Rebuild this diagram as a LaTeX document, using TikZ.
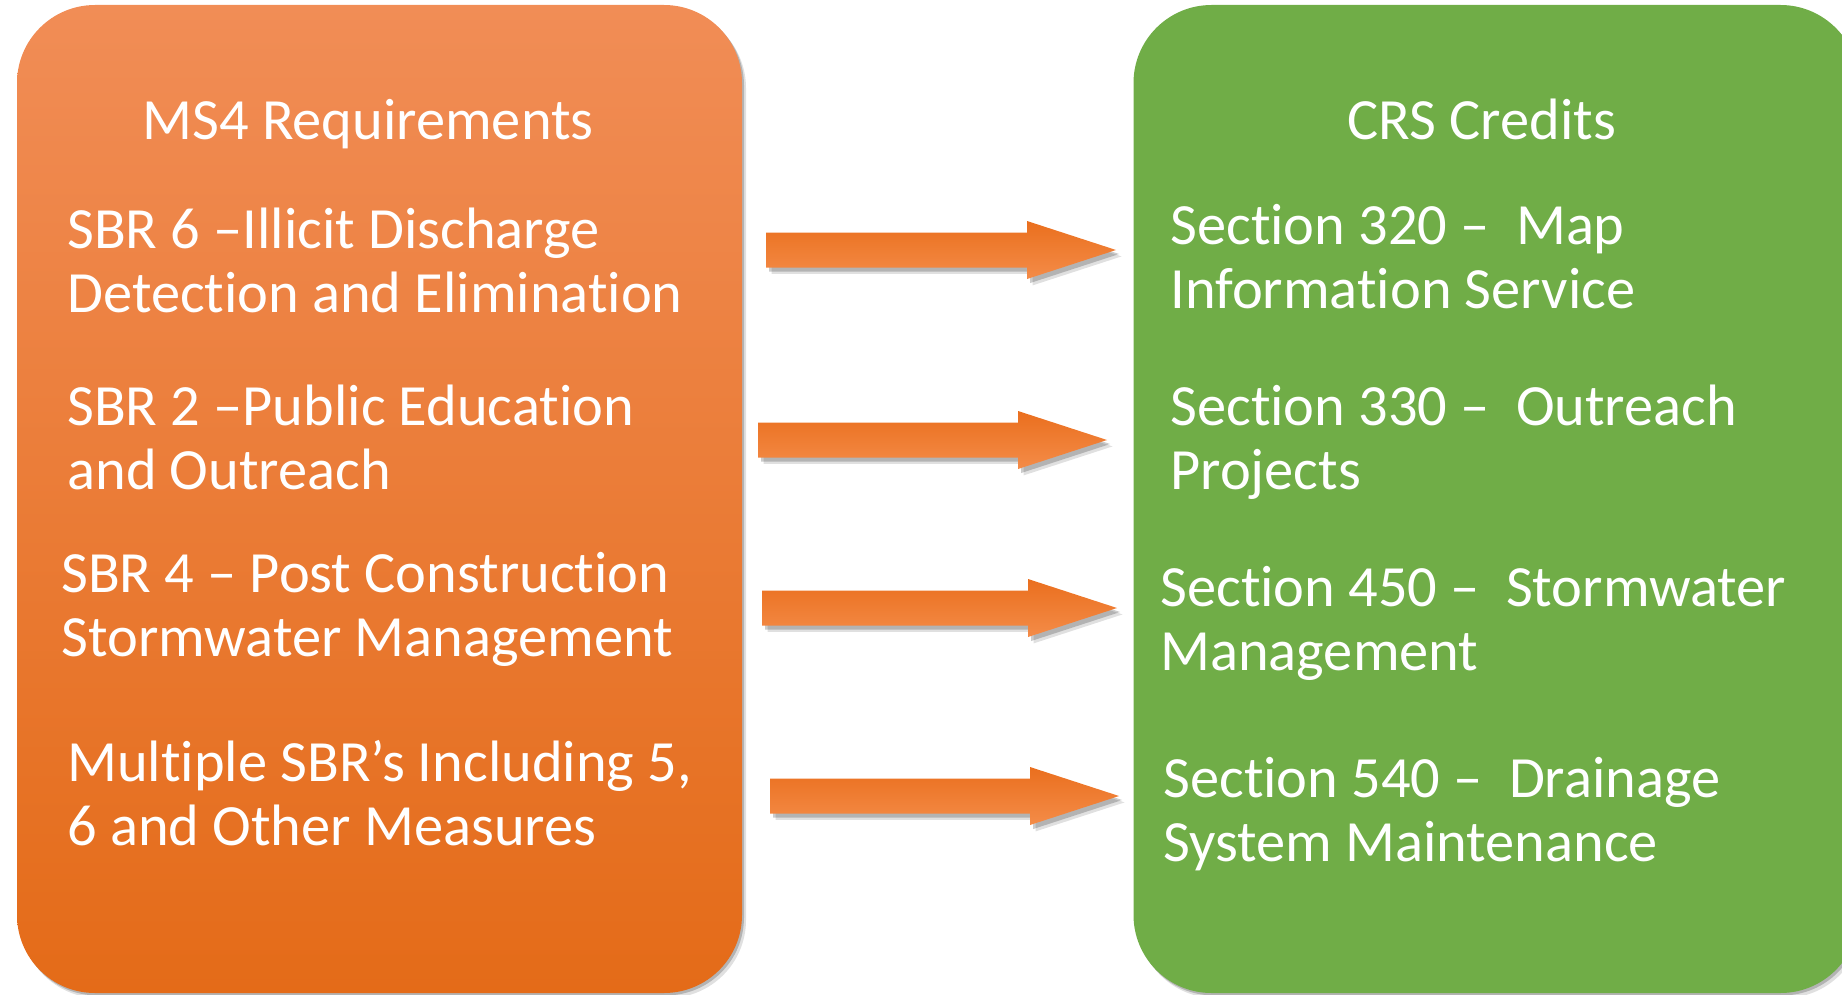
\documentclass[tikz,border=0pt]{standalone}
\usepackage{fontspec}
\setmainfont{Carlito}[Ligatures=NoCommon]
\usetikzlibrary{shadows,calc}
\definecolor{orTop}{RGB}{241,141,86}
\definecolor{orBot}{RGB}{228,107,24}
\definecolor{grn}{RGB}{112,173,71}
\definecolor{arTop}{RGB}{234,111,30}
\definecolor{arBot}{RGB}{244,140,72}
\newcommand\blockarrow[2]{%
  \path[arrowfill] ($(#1)+(0,-17.5)$) -- ($(#2)+(-89,-17.5)$) -- ($(#2)+(-89,-29)$) -- (#2)
    -- ($(#2)+(-89,29)$) -- ($(#2)+(-89,17.5)$) -- ($(#1)+(0,17.5)$) -- cycle;}
\begin{document}
\begin{tikzpicture}[x=0.5pt,y=-0.5pt,
  boxstyle/.style={rounded corners=39pt, minimum width=362.5pt, minimum height=494pt, inner sep=0pt,
     drop shadow={shadow xshift=2pt, shadow yshift=-2.5pt, opacity=0.12, fill=black},
     drop shadow={shadow xshift=1pt, shadow yshift=-1.2pt, opacity=0.2, fill=black}},
  arrowfill/.style={top color=arTop, bottom color=arBot,
     drop shadow={shadow xshift=2.8pt, shadow yshift=-3.2pt, opacity=0.12, fill=black},
     drop shadow={shadow xshift=1.6pt, shadow yshift=-2pt, opacity=0.2, fill=black}},
  txt/.style={text=white, inner sep=0pt, font=\fontsize{29.2pt}{32pt}\selectfont},
  item/.style={txt, anchor=base west, align=left}]
\useasboundingbox (0,0) rectangle (1842,995);
\clip (0,0) rectangle (1842,995);
\node[boxstyle, top color=orTop, bottom color=orBot] (left) at (379.5,499) {};
\node[boxstyle, fill=grn] (right) at (1496,499) {};
\node[txt, anchor=base] (lt) at (368,140) {MS4 Requirements};
\node[txt, anchor=base] (rt) at (1482,140) {CRS Credits};
% base anchor = baseline of the last line
\node[item] (l1) at (67,312) {SBR 6 –Illicit Discharge\\Detection and Elimination};
\node[item] (l2) at (67,489) {SBR 2 –Public Education\\and Outreach};
\node[item] (l3) at (61,656) {SBR 4 – Post Construction\\Stormwater Management};
\node[item] (l4) at (67,845) {Multiple SBR’s Including 5,\\6 and Other Measures};
\node[item] (r1) at (1170,308) {Section 320 –\ \ Map\\Information Service};
\node[item] (r2) at (1170,489) {Section 330 –\ \ Outreach\\Projects};
\node[item] (r3) at (1160,670) {Section 450 –\ \ Stormwater\\Management};
\node[item] (r4) at (1163,861) {Section 540 –\ \ Drainage\\System Maintenance};
\coordinate (a1s) at (766,250); \coordinate (a1t) at (1116,250);
\coordinate (a2s) at (758,440); \coordinate (a2t) at (1107,440);
\coordinate (a3s) at (762,608); \coordinate (a3t) at (1117,608);
\coordinate (a4s) at (770,796); \coordinate (a4t) at (1119,796);
\blockarrow{a1s}{a1t}
\blockarrow{a2s}{a2t}
\blockarrow{a3s}{a3t}
\blockarrow{a4s}{a4t}
\end{tikzpicture}
\end{document}
